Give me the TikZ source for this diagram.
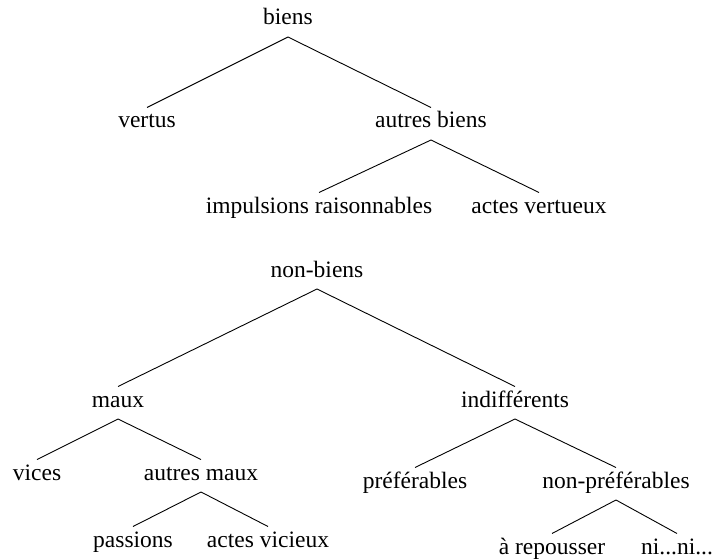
\documentclass[tikz,border=0pt]{standalone}
\usepackage{fontspec}
\setmainfont{Liberation Serif}
\newfontfamily\lserif{Liberation Serif}
\begin{document}
\begin{tikzpicture}[x=1pt,y=-1pt,
  lbl/.style={anchor=base,inner sep=0pt,font=\lserif\fontsize{23.5}{28}\selectfont},
  edge/.style={line width=0.9pt,black}]
\useasboundingbox (0,0) rectangle (715,559);
% top tree
\node[lbl] (biens) at (288,25) {biens};
\node[lbl] (vertus) at (147,128) {vertus};
\node[lbl] (ab) at (431,128) {autres biens};
\node[lbl] (ir) at (319,213) {impulsions raisonnables};
\node[lbl] (av) at (539,213) {actes vertueux};
% bottom tree
\node[lbl] (nb) at (317,277) {non-biens};
\node[lbl] (maux) at (118,407) {maux};
\node[lbl] (ind) at (515,407) {indifférents};
\node[lbl] (vices) at (37,480) {vices};
\node[lbl] (am) at (201,480) {autres maux};
\node[lbl] (pref) at (415,488) {préférables};
\node[lbl] (npref) at (616,488) {non-préférables};
\node[lbl] (pass) at (133,547) {passions};
\node[lbl] (avic) at (268,547) {actes vicieux};
\node[lbl] (rep) at (552,554) {à repousser};
\node[lbl] (nini) at (677,554) {ni...ni...};
\foreach \p/\c in {biens/vertus,biens/ab,ab/ir,ab/av,nb/maux,nb/ind,maux/vices,maux/am,am/pass,am/avic,ind/pref,ind/npref,npref/rep,npref/nini}
  \draw[edge] ([yshift=-12pt]\p.base) -- ([yshift=20.5pt]\c.base);
\end{tikzpicture}
\end{document}
